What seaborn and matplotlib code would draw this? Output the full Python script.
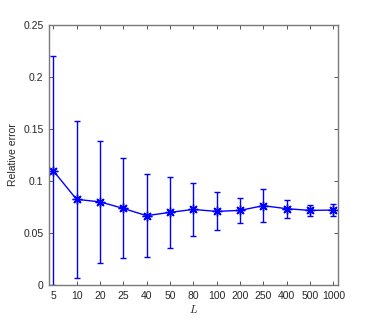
import numpy as np
import pandas as pd
import matplotlib
matplotlib.use("Agg")
import matplotlib.pyplot as plt
import seaborn as sns

# values
L_labels = ["5", "10", "20", "25", "40", "50", "80", "100", "200", "250", "400", "500", "1000"]
mean_err = [0.110, 0.0824, 0.0800, 0.0737, 0.0667, 0.0699, 0.0727, 0.0708, 0.0718, 0.0763, 0.0734, 0.0718, 0.0721]
spread = [0.110, 0.0752, 0.0585, 0.0480, 0.0396, 0.0343, 0.0253, 0.0183, 0.0120, 0.0157, 0.0085, 0.0056, 0.0060]

df = pd.DataFrame({"pos": np.arange(len(L_labels)), "err": mean_err, "sd": spread})

sns.set_style("white", {"xtick.bottom": True, "xtick.top": True,
                        "ytick.left": True, "ytick.right": True})
plt.rcParams["font.family"] = ["Liberation Sans", "DejaVu Sans"]
plt.rcParams["mathtext.fontset"] = "cm"

fig = plt.figure(figsize=(3.74, 3.21), dpi=100)
ax = fig.add_axes([0.131, 0.112, 0.773, 0.81])

blue = (0, 0, 1)
ax.errorbar(df["pos"], df["err"], yerr=df["sd"], fmt="none", ecolor=blue,
            elinewidth=1.0, capsize=2.5, capthick=1.0)
sns.lineplot(data=df, x="pos", y="err", ax=ax, color=blue, lw=1.0,
             marker=(8, 2, 0), markersize=7, markeredgewidth=1.0,
             markeredgecolor=blue)

ax.set_xlim(-0.18, 12.2)
ax.set_ylim(0, 0.25)
ax.set_xticks(df["pos"])
ax.set_xticklabels(L_labels)
ax.set_yticks([0, 0.05, 0.1, 0.15, 0.2, 0.25])
ax.set_yticklabels(["0", "0.05", "0.1", "0.15", "0.2", "0.25"])
ax.tick_params(direction="in", length=3, width=0.7, color="#555555",
               labelcolor="#262626", labelsize=7.5,
               top=True, right=True, bottom=True, left=True, pad=4)
for s in ax.spines.values():
    s.set_color("#7a7a7a")
    s.set_linewidth(1.0)

ax.set_xlabel(r"$L$", fontsize=8, labelpad=2)
ax.set_ylabel("Relative error", fontsize=7.5, labelpad=4)

fig.savefig("out.png", dpi=100)
